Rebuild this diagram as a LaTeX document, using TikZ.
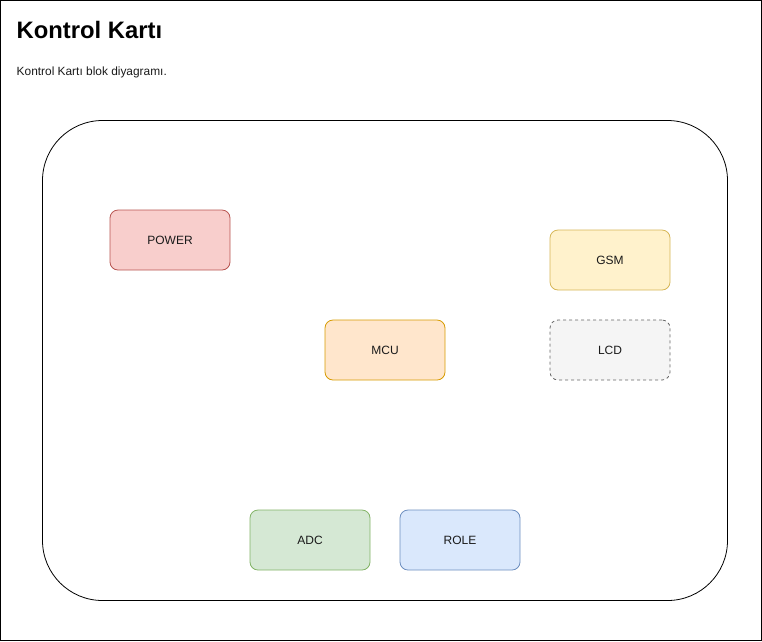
\documentclass[tikz,border=0pt]{standalone}
\usepackage{fontspec}
\setmainfont{Liberation Sans}
\definecolor{pwrF}{HTML}{F8CECC}\definecolor{pwrD}{HTML}{B85450}
\definecolor{gsmF}{HTML}{FFF2CC}\definecolor{gsmD}{HTML}{D6B656}
\definecolor{mcuF}{HTML}{FFE6CC}\definecolor{mcuD}{HTML}{D79B00}
\definecolor{lcdF}{HTML}{F5F5F5}\definecolor{lcdD}{HTML}{666666}
\definecolor{adcF}{HTML}{D5E8D4}\definecolor{adcD}{HTML}{82B366}
\definecolor{roleF}{HTML}{DAE8FC}\definecolor{roleD}{HTML}{6C8EBF}
\definecolor{txt}{HTML}{1A1A1A}
\begin{document}
\begin{tikzpicture}[x=1pt,y=-1pt,
  blk/.style={draw, rounded corners=8pt, minimum width=120pt, minimum height=60pt,
    inner sep=0pt, font=\fontsize{12pt}{14pt}\selectfont, text=txt, line width=0.8pt}]
\useasboundingbox (0,0) rectangle (762,641);
\draw[line width=1pt] (0.5,0.5) rectangle (761.5,640.5);
\node[anchor=base west, inner sep=0pt, font=\fontsize{23.8pt}{28pt}\selectfont\bfseries] (title) at (16.5,38) {Kontrol Kartı};
\node[anchor=base west, inner sep=0pt, font=\fontsize{11.9pt}{14pt}\selectfont, text=txt] (sub) at (16.5,75) {Kontrol Kartı blok diyagramı.};
\draw[rounded corners=60pt, line width=0.8pt] (42.5,120.5) rectangle (727.5,600.5);
\node[blk, fill=pwrF, draw=pwrD] (power) at (170,240) {POWER};
\node[blk, fill=gsmF, draw=gsmD] (gsm) at (610,260) {GSM};
\node[blk, fill=mcuF, draw=mcuD] (mcu) at (385,350) {MCU};
\node[blk, fill=lcdF, draw=lcdD, dash pattern=on 3pt off 3pt] (lcd) at (610,350) {LCD};
\node[blk, fill=adcF, draw=adcD] (adc) at (310,540) {ADC};
\node[blk, fill=roleF, draw=roleD] (role) at (460,540) {ROLE};
\end{tikzpicture}
\end{document}
